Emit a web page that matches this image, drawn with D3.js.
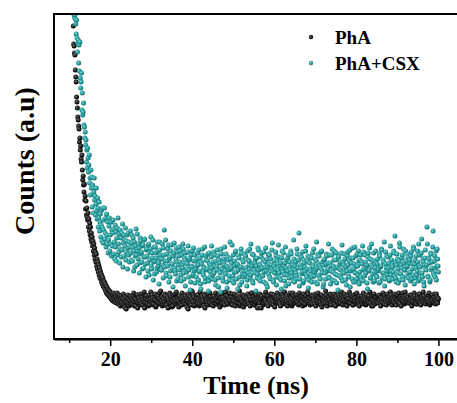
<!DOCTYPE html>
<html>
<head>
<meta charset="utf-8">
<script src="https://cdn.jsdelivr.net/npm/d3@7"></script>
<style>
  body { margin: 0; background: #fff; }
  svg { display: block; }
</style>
</head>
<body>
<div id="root"></div>
<script>
// time grid: 0.1 ns through the fast decay; the tail is stored as two
// interleaved 0.2 ns channel sets (even = 25.0, 25.2 ..., odd = 25.1, 25.3 ...)
const headStart = 10.6, headStep = 0.1;
const tailStart = 25.0, tailStep = 0.2;

// PhA counts (a.u.)
const phaHead = [
  369,349,339,331,313,295,293,286,284,269,
  262,257,242,237,231,222,219,213,210,197,
  201,189,193,180,177,184,169,159,163,154,
  147,155,139,143,130,138,124,131,122,119,
  126,112,120,108,116,104,112,100,106,97,
  102,93,98,88,95,84,91,80,87,77,
  85,73,80,70,77,67,74,64,71,61,
  68,60,65,57,63,55,61,53,58,52,
  57,50,55,48,53,46,52,45,50,44,
  49,43,48,42,47,41,46,40,45,39,
  44,38,46,40,43,37,45,39,42,36,
  41,46,38,43,35,40,44,37,42,33,
  39,43,36,41,34,40,45,35,38,32,
  42,36,39,30,37,41,34,44,36,40,
  33,38,43,35
];
const phaTailEven = [
  38,41,35,43,37,40,33,39,44,36,41,38,34,42,39,45,37,31,40,43,
  36,39,42,34,40,37,44,38,35,41,39,33,43,37,40,46,36,39,42,35,
  40,37,43,38,34,41,39,36,44,40,32,38,42,37,45,39,35,41,38,43,
  36,40,34,42,39,37,44,35,41,38,30,43,39,36,40,47,37,42,34,39,
  41,37,44,38,35,40,42,36,39,33,43,38,41,37,45,39,36,42,40,34,
  38,43,36,40,39,35,42,37,44,38,41,34,39,46,36,40,43,37,35,41,
  39,36,42,38,45,40,34,41,37,43,39,36,40,33,42,38,44,37,41,35,
  40,43,37,39,35,42,38,46,36,41,39,34,43,37,40,38,44,36,42,31,
  38,41,36,44,39,37,42,35,40,43,38,36,45,39,34,41,37,42,40,36,
  43,38,35,41,39,44,37,40,36,42,38,33,41,39,46,37,40,35,43,38,
  36,42,39,37,44,40,35,41,38,43,36,40,34,42,39,37,45,38,41,36,
  40,37,43,39,35,42,38,44,36,41,39,37,43,32,40,38,42,36,44,39,
  37,41,38,45,36,40,43,39,35,42,38,41,37,44,39,36,40,47,38,42,
  39,35,41,38,43,37,40,36,44,39,42,34,40,38,45,37,41,39,36,43,
  38,42,36,40,37,44,39,35,41,38,43,40,36,42,39,33,44,37,40,38,
  41,37,43,39,36,42,38,45,40,35,41,37,43,39,36,42,38,44,40,37,
  39,43,36,41,38,44,37,40,35,42,39,46,38,41,36,43,40,37,42,39,
  36,40,44,38,41,37,43,39,35,42,40,38,45,36,41,39,37,43,40,38,
  42,37,40,44,38,36,41,43,39,37,45,40,38,42,36,40
];
const phaTailOdd = [
  42,35,39,46,33,40,37,44,31,41,38,45,36,42,34,39,47,37,43,35,
  40,33,44,38,47,36,41,34,39,45,32,42,37,43,35,40,48,38,33,41,
  37,45,34,40,43,31,39,46,36,42,38,33,44,40,35,47,37,41,32,43,
  39,34,46,37,41,35,43,38,32,45,40,36,42,34,48,38,44,33,40,37,
  44,36,40,33,47,39,35,42,37,45,31,41,38,43,34,40,46,36,42,38,
  33,43,38,46,35,41,37,44,32,40,45,36,42,39,34,47,38,43,35,41,
  46,37,42,34,40,38,45,33,41,36,43,39,48,35,40,37,44,32,42,38,
  35,41,45,37,43,33,39,46,38,42,34,40,36,44,31,41,37,45,39,43,
  40,34,42,38,47,36,43,33,41,39,45,35,40,37,44,32,42,38,46,36,
  41,37,33,45,39,42,35,47,38,40,34,43,36,44,38,41,33,46,37,42,
  38,44,36,41,34,46,39,42,37,33,45,40,35,43,38,47,36,41,34,44,
  43,35,40,37,45,33,42,38,46,36,41,34,44,39,35,42,37,48,40,33,
  36,42,39,44,34,41,37,45,40,33,43,38,46,35,42,36,44,39,34,41,
  45,37,42,33,40,38,47,36,43,39,34,44,37,41,35,46,38,42,33,40,
  39,43,35,46,38,41,34,44,37,42,36,47,40,33,43,38,45,35,41,37,
  42,36,44,39,33,41,37,46,35,43,40,34,45,38,42,36,47,39,34,41,
  37,45,40,34,43,38,46,36,41,33,44,39,42,35,47,37,40,43,36,39,
  44,38,33,42,36,46,39,41,35,43,37,45,40,34,42,38,47,36,41,35,
  40,43,37,46,34,41,38,44,36,42,39,35,45,38,41
];

// PhA+CSX counts (a.u.)
const csxHead = [
  349,339,335,329,333,325,327,322,324,320,
  315,305,319,301,287,296,299,276,294,268,
  297,261,251,257,266,229,246,224,227,236,
  214,212,201,207,194,199,177,189,171,191,
  181,167,174,184,156,161,144,169,151,162,
  132,154,151,126,147,161,139,143,124,135,
  151,128,120,141,131,112,121,137,108,117,
  125,102,114,129,98,111,131,96,109,119,
  131,100,106,121,92,125,104,95,117,86,
  99,113,121,88,104,95,117,83,109,93,
  106,119,85,110,97,80,114,92,107,78,
  101,111,84,121,95,87,105,76,109,90,
  101,82,106,89,115,72,96,104,83,99,
  93,111,79,98,87,104,70,91,106,84,
  97,77,92,108
];
const csxTailEven = [
  86,96,78,101,88,72,93,84,105,80,91,76,98,87,70,94,82,100,75,89,
  83,68,95,79,90,73,86,99,77,65,92,81,71,88,76,97,84,69,80,74,
  91,109,78,66,85,73,94,80,62,88,75,70,83,96,68,79,58,87,74,92,
  77,64,84,71,90,60,79,86,67,75,93,69,81,57,73,88,65,78,84,70,
  62,80,74,89,68,55,77,84,66,72,92,61,79,70,85,58,75,67,82,71,
  64,87,73,59,78,69,83,52,76,66,90,71,61,80,74,68,85,57,72,79,
  63,97,70,76,58,84,67,73,88,60,75,69,81,54,72,86,65,77,62,71,
  83,68,59,79,74,90,64,70,85,56,76,66,80,73,61,91,69,75,58,82,
  71,63,87,67,77,55,80,72,65,84,60,74,89,68,57,78,70,83,62,75,
  94,66,73,59,81,70,86,64,76,53,79,68,84,61,72,88,66,75,58,80,
  69,77,63,85,71,106,60,74,82,67,56,79,72,88,64,70,83,59,76,68,
  81,62,74,90,67,57,78,71,85,64,73,60,87,69,77,55,80,66,75,83,
  70,95,61,76,68,84,59,73,88,65,79,56,72,82,63,75,69,86,58,77,
  66,80,71,54,83,74,62,89,68,76,60,81,70,92,57,73,85,64,78,67,
  84,59,75,69,87,63,77,72,56,82,68,91,61,74,79,65,86,58,71,76,
  62,80,70,85,57,73,89,66,77,97,60,75,83,68,71,58,84,64,79,72,
  67,86,103,61,74,80,56,78,92,65,71,84,59,76,69,88,63,73,82,66,
  79,58,87,70,64,90,75,61,83,68,77,95,60,72,86,66,80,57,74,89,
  69,112,63,81,76,59,85,71,92,66,78,62,88,73,80,67
];
const csxTailOdd = [
  79,104,91,68,97,83,110,74,88,95,66,101,85,77,93,71,99,82,62,90,
  76,94,64,87,102,70,81,59,92,78,86,67,97,73,55,89,80,69,95,61,
  84,72,99,63,78,90,57,82,68,94,75,52,86,71,65,91,77,60,83,69,
  88,58,74,95,66,81,53,76,70,87,62,79,49,84,72,63,91,68,56,78,
  73,86,59,67,81,50,75,90,64,71,57,83,69,78,48,86,62,74,93,60,
  77,66,84,54,72,89,61,79,68,47,85,70,58,76,92,65,73,51,82,69,
  59,80,71,94,63,56,78,87,67,74,50,83,62,72,90,57,79,68,85,64,
  71,53,88,66,78,61,95,73,58,84,69,76,48,81,65,89,60,74,70,86,
  64,79,57,72,91,68,52,85,75,62,80,70,96,59,73,66,87,54,78,69,
  82,61,76,50,88,67,73,58,92,71,64,81,55,77,69,85,62,74,99,57,
  73,66,90,60,79,53,84,71,65,87,58,76,68,93,62,78,51,82,70,64,
  57,86,72,63,80,69,97,55,75,83,61,71,88,66,52,79,74,60,85,68,
  76,62,84,55,73,90,67,79,58,71,86,64,49,82,70,77,61,94,66,74,
  85,59,72,68,87,63,78,52,81,70,91,57,75,66,83,60,73,88,55,79,
  62,77,93,58,70,84,66,74,50,86,69,80,61,95,72,57,78,67,88,63,
  75,68,56,83,72,90,61,79,66,53,87,71,64,82,76,59,93,68,74,60,
  88,63,77,57,85,70,66,96,59,74,81,62,90,69,54,78,72,85,61,76,
  67,83,60,75,92,55,79,71,64,88,58,73,84,66,100,62,77,53,81,70,
  74,95,62,80,57,86,69,77,108,64,83,71,59,90,73
];

const seriesNames = ["PhA", "PhA+CSX"];
const seriesColors = ["#1c1c1c", "#239b9b"];
const xMajorTicks = [20, 40, 60, 80, 100];
const xMinorTicks = [10, 30, 50, 70, 90];
const xDomain = [6.3, 105.5];
const yDomain = [0, 325];

const width = 457, height = 403;
const plot = { left: 54, top: 14, right: 461, bottom: 339 };
const serif = "'Liberation Serif', 'Times New Roman', Times, serif";

const toPoints = (head, even, odd) =>
  head.map((v, i) => ({ t: headStart + i * headStep, v }))
    .concat(even.map((v, i) => ({ t: tailStart + i * tailStep, v })))
    .concat(odd.map((v, i) => ({ t: tailStart + tailStep / 2 + i * tailStep, v })))
    .sort((a, b) => a.t - b.t);

const series = [
  { name: seriesNames[0], grad: "ballBlack", pts: toPoints(phaHead, phaTailEven, phaTailOdd) },
  { name: seriesNames[1], grad: "ballTeal", pts: toPoints(csxHead, csxTailEven, csxTailOdd) },
];

const x = d3.scaleLinear().domain(xDomain).range([plot.left, plot.right]);
const y = d3.scaleLinear().domain(yDomain).range([plot.bottom, plot.top]);

const svg = d3.select("#root").append("svg")
  .attr("width", width).attr("height", height)
  .attr("viewBox", [0, 0, width, height]);

const defs = svg.append("defs");
defs.append("clipPath").attr("id", "plotClip")
  .append("rect")
  .attr("x", plot.left).attr("y", plot.top)
  .attr("width", plot.right - plot.left).attr("height", plot.bottom - plot.top);

function ball(id, hi, mid, lo) {
  const g = defs.append("radialGradient").attr("id", id)
    .attr("cx", "40%").attr("cy", "38%").attr("r", "65%");
  g.append("stop").attr("offset", "0%").attr("stop-color", hi);
  g.append("stop").attr("offset", "55%").attr("stop-color", mid);
  g.append("stop").attr("offset", "100%").attr("stop-color", lo);
}
ball("ballBlack", "#6a6a6a", seriesColors[0], "#000");
ball("ballTeal", "#7fd0d0", seriesColors[1], "#126a6a");

// points
const pg = svg.append("g").attr("clip-path", "url(#plotClip)");
series.forEach((s) => {
  pg.append("g")
    .selectAll("circle")
    .data(s.pts)
    .join("circle")
    .attr("cx", (d) => x(d.t))
    .attr("cy", (d) => y(d.v))
    .attr("r", 2.5)
    .attr("fill", `url(#${s.grad})`);
});

// frame (right edge falls just outside the picture)
svg.append("rect")
  .attr("x", plot.left).attr("y", plot.top)
  .attr("width", plot.right - plot.left).attr("height", plot.bottom - plot.top)
  .attr("fill", "none").attr("stroke", "#000").attr("stroke-width", 2);

// x axis
const xAxis = svg.append("g")
  .attr("transform", `translate(0,${plot.bottom})`)
  .call(d3.axisBottom(x).tickValues(xMajorTicks).tickSize(7).tickSizeOuter(0));
xAxis.select(".domain").attr("stroke-width", 2);
xAxis.selectAll(".tick line").attr("stroke-width", 1.5);
xAxis.selectAll(".tick text")
  .attr("y", 27).attr("dy", null)
  .attr("font-family", serif).attr("font-weight", "bold")
  .attr("font-size", 20).attr("fill", "#000");

const xMinor = svg.append("g")
  .attr("transform", `translate(0,${plot.bottom})`)
  .call(d3.axisBottom(x).tickValues(xMinorTicks).tickSize(4).tickSizeOuter(0).tickFormat(""));
xMinor.select(".domain").remove();
xMinor.selectAll(".tick line").attr("stroke-width", 1.5);

// axis titles
svg.append("text")
  .attr("x", 256).attr("y", 394)
  .attr("text-anchor", "middle")
  .attr("font-family", serif).attr("font-weight", "bold").attr("font-size", 26)
  .text("Time (ns)");

svg.append("text")
  .attr("transform", "translate(34,161) rotate(-90)")
  .attr("text-anchor", "middle")
  .attr("font-family", serif).attr("font-weight", "bold").attr("font-size", 28)
  .text("Counts (a.u)");

// legend
const legend = svg.append("g");
series.forEach((s, i) => {
  const ly = 37 + i * 26;
  legend.append("circle")
    .attr("cx", 311).attr("cy", ly).attr("r", 2.2)
    .attr("fill", `url(#${s.grad})`);
  legend.append("text")
    .attr("x", 335).attr("y", ly + 6.5)
    .attr("font-family", serif).attr("font-weight", "bold").attr("font-size", 19)
    .text(s.name);
});
</script>
</body>
</html>
